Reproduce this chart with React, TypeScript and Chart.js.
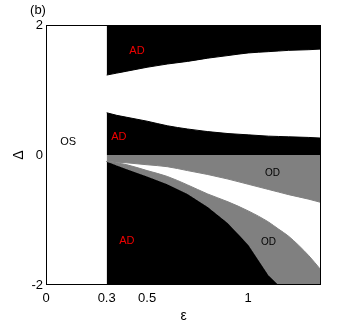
import React, { useEffect, useRef } from "react";
import { Chart, registerables } from "chart.js";

Chart.register(...registerables);

// ε grid shared by all boundary curves
const EPS = [0.3, 0.35, 0.4, 0.5, 0.6, 0.7, 0.8, 0.9, 1.0, 1.1, 1.15, 1.2, 1.3, 1.36];
// lower edge of upper AD region
const UPPER_AD = [1.23, 1.26, 1.29, 1.35, 1.4, 1.44, 1.49, 1.53, 1.57, 1.59, 1.6, 1.61, 1.62, 1.63];
// upper edge of middle AD region
const MID_AD = [0.65, 0.61, 0.58, 0.52, 0.45, 0.4, 0.36, 0.33, 0.31, 0.29, 0.285, 0.28, 0.27, 0.26];
// lower edge of upper OD band
const OD_TOP = [-0.1, -0.11, -0.12, -0.15, -0.18, -0.24, -0.3, -0.37, -0.45, -0.53, -0.57, -0.61, -0.68, -0.73];
// upper edge of lower OD band
const OD_LOW = [-0.1, -0.12, -0.15, -0.24, -0.33, -0.46, -0.6, -0.72, -0.86, -1.03, -1.14, -1.25, -1.55, -1.77];
// upper edge of lower AD region
const AD_LOW = [-0.1, -0.16, -0.22, -0.33, -0.45, -0.6, -0.8, -1.05, -1.38, -1.85, -2, -2, -2, -2];

const X_TICKS = [0, 0.3, 0.5, 1];
const Y_TICKS = [-2, 0, 2];

const LABEL_TEXT = ["OS", "AD", "AD", "AD", "OD", "OD"];
const LABEL_EPS = [0.11, 0.45, 0.36, 0.4, 1.12, 1.1];
const LABEL_DELTA = [0.2, 1.6, 0.28, -1.32, -0.28, -1.34];
const LABEL_COLOR = ["#000000", "#f00000", "#f00000", "#f00000", "#000000", "#000000"];

const pts = (ys: number[]) => EPS.map((x, i) => ({ x, y: ys[i] }));

export default function App() {
  const ref = useRef<HTMLCanvasElement | null>(null);
  useEffect(() => {
    if (!ref.current) return;
    const black = "#000000";
    const gray = "#808080";
    const font = "'Liberation Sans', Arial, sans-serif";
    const overlay = {
      id: "overlay",
      afterDatasetsDraw(chart: any) {
        const { ctx, chartArea: a, scales } = chart;
        ctx.save();
        ctx.strokeStyle = "#000";
        ctx.lineWidth = 1;
        ctx.strokeRect(a.left + 0.5, a.top + 0.5, a.right - a.left - 1, a.bottom - a.top - 1);
        ctx.textAlign = "center";
        ctx.textBaseline = "middle";
        LABEL_TEXT.forEach((t, i) => {
          ctx.fillStyle = LABEL_COLOR[i];
          ctx.font = `${t === "OD" ? 10 : 11}px ${font}`;
          ctx.fillText(t, scales.x.getPixelForValue(LABEL_EPS[i]), scales.y.getPixelForValue(LABEL_DELTA[i]));
        });
        ctx.fillStyle = "#000";
        ctx.font = `13px ${font}`;
        ctx.textAlign = "center";
        ctx.fillText("(b)", a.left - 8, a.top - 15);
        ctx.restore();
      },
    };
    const smooth = { cubicInterpolationMode: "monotone", borderWidth: 1, pointRadius: 0 };
    const chart = new Chart(ref.current, {
      type: "line",
      data: {
        datasets: [
          { ...smooth, data: pts(UPPER_AD), fill: "end", backgroundColor: black, borderColor: black },
          { ...smooth, data: pts(MID_AD), fill: "origin", backgroundColor: black, borderColor: black },
          { ...smooth, data: pts(OD_TOP), fill: "origin", backgroundColor: gray, borderColor: gray },
          { ...smooth, data: pts(OD_LOW), fill: "+1", backgroundColor: gray, borderColor: gray },
          { data: pts(AD_LOW), fill: "start", backgroundColor: black, borderColor: black, borderWidth: 1, pointRadius: 0, tension: 0 },
        ],
      },
      options: {
        animation: false,
        responsive: false,
        layout: { padding: { top: 25, right: 33, left: 0, bottom: 0 } },
        plugins: { legend: { display: false }, tooltip: { enabled: false } },
        scales: {
          x: {
            type: "linear",
            min: 0,
            max: 1.36,
            afterBuildTicks: (s: any) => { s.ticks = X_TICKS.map((v) => ({ value: v })); },
            afterFit: (s: any) => { s.height = 42; },
            grid: { display: false, drawTicks: false },
            border: { display: false },
            ticks: { color: "#000", font: { family: font, size: 13 }, padding: 6, maxRotation: 0, autoSkip: false, callback: (v: any) => String(v) },
            title: { display: true, text: "ε", color: "#000", font: { family: font, size: 14 }, padding: { top: 0, bottom: 2 } },
          },
          y: {
            type: "linear",
            min: -2,
            max: 2,
            afterBuildTicks: (s: any) => { s.ticks = Y_TICKS.map((v) => ({ value: v })); },
            afterFit: (s: any) => { s.width = 46; },
            grid: { display: false, drawTicks: false },
            border: { display: false },
            ticks: { color: "#000", font: { family: font, size: 13 }, padding: 3, autoSkip: false, callback: (v: any) => String(v) },
            title: { display: true, text: "Δ", color: "#000", font: { family: font, size: 14 }, padding: { top: 11, bottom: 0 } },
          },
        },
      },
      plugins: [overlay],
    } as any);
    return () => chart.destroy();
  }, []);
  return (
    <div style={{ position: "absolute", left: 0, top: 0, width: 354, height: 327, background: "#fff" }}>
      <canvas ref={ref} width={354} height={327} />
    </div>
  );
}
